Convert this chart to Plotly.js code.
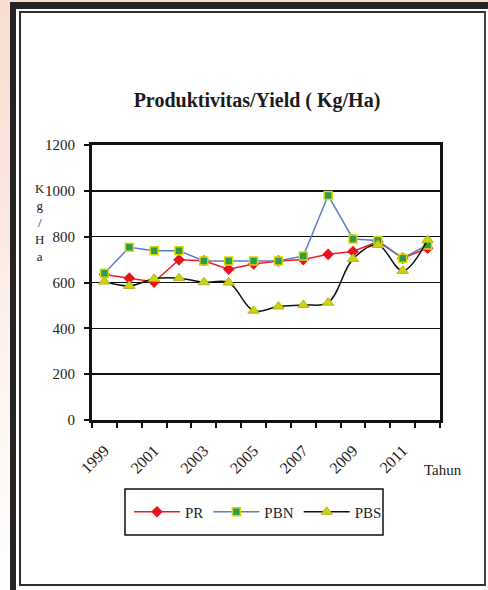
<!DOCTYPE html>
<html>
<head>
<meta charset="utf-8">
<script src="https://cdn.plot.ly/plotly-3.0.1.min.js"></script>
<style>
  html, body { margin:0; padding:0; width:488px; height:590px; overflow:hidden;
    background: linear-gradient(180deg, #f9ddd1 0%, #fbe6de 30%, #fdf3ee 60%, #ffffff 100%); }
  #frame { position:absolute; left:10px; top:2px; right:0; bottom:0; background:#fff;
    border-left:6px solid #262324; border-top:7px solid #262324; }
  #inner { position:absolute; left:19px; top:11px; width:463px; height:571px;
    border:2px solid #2e2e2e; border-right-color:#444; background:#fff; }
  #chart { position:absolute; left:0; top:0; width:488px; height:590px; }
</style>
</head>
<body>
<div id="frame"></div>
<div id="inner"></div>
<div id="chart"></div>
<script>
const years = ['1999','2000','2001','2002','2003','2004','2005','2006','2007','2008','2009','2010','2011','2012'];
const yearLabels = ['1999','','2001','','2003','','2005','','2007','','2009','','2011',''];
const PR  = [635, 619, 602, 699, 695, 658, 681, 694, 700, 723, 735, 779, 706, 750];
const PBN = [640, 754, 739, 739, 694, 694, 694, 694, 716, 980, 790, 783, 706, 764];
const PBS = [604, 585, 616, 619, 601, 600, 477, 495, 502, 512, 703, 764, 651, 786];
const yTicks = [0, 200, 400, 600, 800, 1000, 1200];

const serif = 'Liberation Serif, Times New Roman, serif';

const traces = [
  { x: years, y: PR, name: 'PR', type: 'scatter', mode: 'lines+markers',
    line: { color: '#ee1c25', width: 1.5 },
    marker: { symbol: 'diamond', size: 9, color: '#e8141c', line: { color: '#e8141c', width: 0 } } },
  { x: years, y: PBN, name: 'PBN', type: 'scatter', mode: 'lines+markers',
    line: { color: '#5b7ec2', width: 1.5 },
    marker: { symbol: 'square', size: 8, color: '#2e9a52', line: { color: '#d9d900', width: 1.5 } } },
  { x: years, y: PBS, name: 'PBS', type: 'scatter', mode: 'lines+markers',
    line: { color: '#111111', width: 1.5, shape: 'spline', smoothing: 1 },
    marker: { symbol: 'triangle-up', size: 10, color: '#d2d200', line: { color: '#a8b830', width: 1 } } }
];

const L = 92, R = 440, T = 145, B = 420;
const W = 488, H = 590;
const px = v => (v - L) / (R - L);
const py = v => (B - v) / (B - T);

const layout = {
  width: W, height: H,
  margin: { l: L, r: W - R, t: T, b: H - B, pad: 0 },
  paper_bgcolor: 'rgba(0,0,0,0)',
  plot_bgcolor: '#ffffff',
  font: { family: serif, color: '#222', size: 15 },
  showlegend: true,
  title: { text: '<b>Produktivitas/Yield ( Kg/Ha)</b>', font: { family: serif, size: 20, color: '#1a1a1a' },
    xref: 'paper', x: px(257), xanchor: 'center', yref: 'container', y: 1 - 100/H, yanchor: 'middle' },
  xaxis: {
    type: 'category', categoryorder: 'array', categoryarray: years,
    tickvals: years, ticktext: yearLabels, tickson: 'boundaries',
    tickangle: -45, ticks: 'outside', ticklen: 5, tickwidth: 2, tickcolor: '#111',
    ticklabelstandoff: 12,
    showline: true, linecolor: '#111', linewidth: 3, mirror: true,
    showgrid: false, zeroline: false,
    tickfont: { family: serif, size: 16, color: '#222' },
    range: [-0.5, 13.5]
  },
  yaxis: {
    range: [0, 1200], tickvals: yTicks, ticktext: yTicks.map(String),
    ticks: 'outside', ticklen: 5, tickwidth: 2, tickcolor: '#111',
    ticklabelstandoff: 6,
    showline: true, linecolor: '#111', linewidth: 3, mirror: true,
    showgrid: true, gridcolor: '#111', gridwidth: 1.5, zeroline: false,
    tickfont: { family: serif, size: 15, color: '#222' }
  },
  legend: {
    orientation: 'h', x: px(129), xanchor: 'left', y: py(512), yanchor: 'middle',
    bgcolor: 'rgba(0,0,0,0)', borderwidth: 0, itemwidth: 46,
    font: { family: serif, size: 15, color: '#222' },
    itemclick: false
  },
  shapes: [
    { type: 'rect', xref: 'paper', yref: 'paper', x0: px(125), x1: px(383), y0: py(535), y1: py(489),
      line: { color: '#111', width: 1.5 }, fillcolor: 'rgba(0,0,0,0)' }
  ],
  annotations: [
    { text: 'K<br>g<br>/<br>H<br>a', xref: 'paper', yref: 'paper', x: px(40), y: py(222),
      xanchor: 'center', yanchor: 'middle', showarrow: false, align: 'center',
      font: { family: serif, size: 13, color: '#222' } },
    { text: 'Tahun', xref: 'paper', yref: 'paper', x: px(443), y: py(470),
      xanchor: 'center', yanchor: 'middle', showarrow: false,
      font: { family: serif, size: 15, color: '#222' } }
  ]
};

Plotly.newPlot('chart', traces, layout, { displayModeBar: false, staticPlot: true });
</script>
</body>
</html>
